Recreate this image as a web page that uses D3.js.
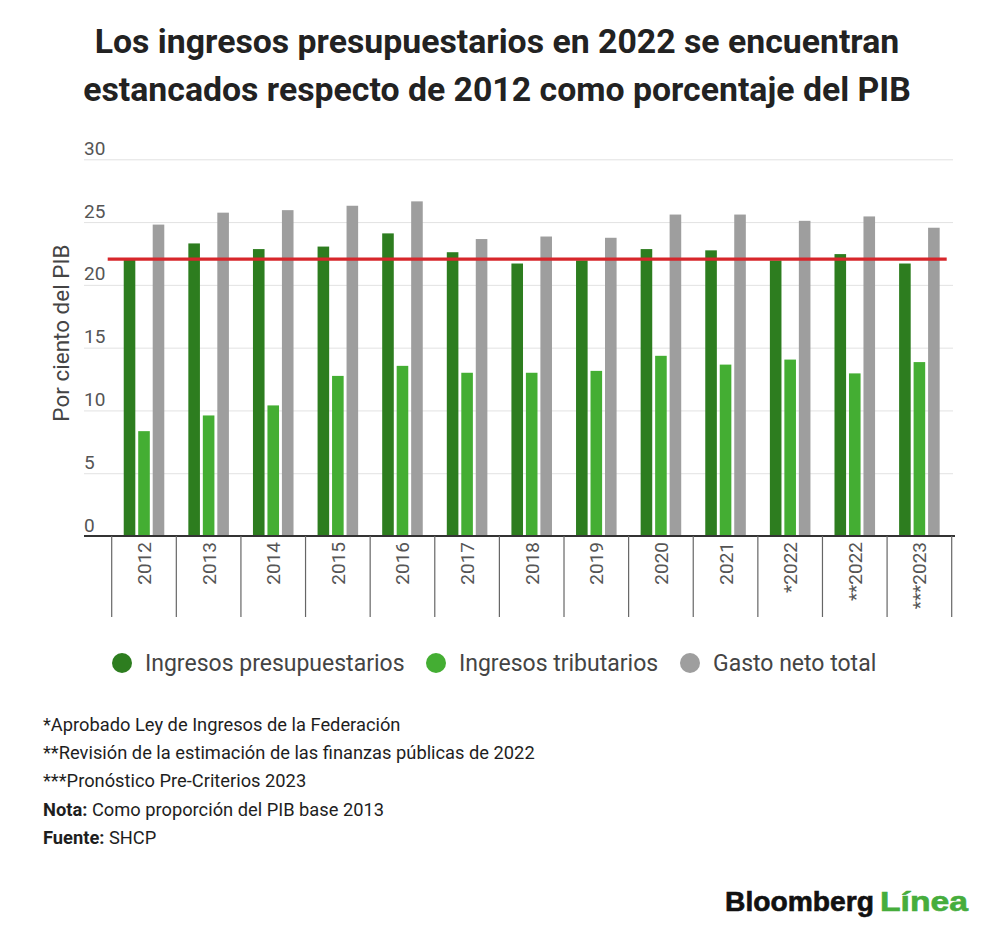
<!DOCTYPE html>
<html>
<head>
<meta charset="utf-8">
<script src="https://cdn.jsdelivr.net/npm/d3@7"></script>
<style>
  body { margin: 0; background: #fff; }
  svg { font-family: Roboto, "Noto Sans", sans-serif; }
</style>
</head>
<body>
<div id="chart"></div>
<script>
// data (per cent of GDP)
var years = ["2012", "2013", "2014", "2015", "2016", "2017", "2018", "2019", "2020", "2021", "*2022", "**2022", "***2023"];
var ingresosPresupuestarios = [22.05, 23.3, 22.85, 23.05, 24.1, 22.6, 21.7, 21.95, 22.85, 22.75, 21.95, 22.45, 21.7];
var ingresosTributarios = [8.35, 9.6, 10.4, 12.75, 13.55, 13.0, 13.0, 13.15, 14.35, 13.65, 14.05, 12.95, 13.85];
var gastoNetoTotal = [24.8, 25.75, 25.95, 26.3, 26.65, 23.65, 23.85, 23.75, 25.6, 25.6, 25.1, 25.45, 24.55];
var seriesNames = ["Ingresos presupuestarios", "Ingresos tributarios", "Gasto neto total"];
var referenceValue = 22.05; // 2012 level
var yTicks = [0, 5, 10, 15, 20, 25, 30];

var titleLines = [
  "Los ingresos presupuestarios en 2022 se encuentran",
  "estancados respecto de 2012 como porcentaje del PIB"
];
var notes = [
  { b: "", t: "*Aprobado Ley de Ingresos de la Federación" },
  { b: "", t: "**Revisión de la estimación de las finanzas públicas de 2022" },
  { b: "", t: "***Pronóstico Pre-Criterios 2023" },
  { b: "Nota:", t: " Como proporción del PIB base 2013" },
  { b: "Fuente:", t: " SHCP" }
];

var colors = ["#2d7d1f", "#44ae33", "#9e9e9e"];

var svgWidth = 1000;
var svgHeight = 941;

var svg = d3.select("#chart")
  .append("svg")
  .attr("width", svgWidth)
  .attr("height", svgHeight);

svg.append("rect")
  .attr("width", svgWidth)
  .attr("height", svgHeight)
  .attr("fill", "#fff");

// title
svg.append("g").selectAll("text")
  .data(titleLines)
  .enter()
  .append("text")
  .attr("x", 497)
  .attr("y", (d, i) => 53 + i * 48)
  .attr("text-anchor", "middle")
  .attr("font-size", 33.8)
  .attr("font-weight", 700)
  .attr("fill", "#222")
  .text(d => d);

// plot area
var plotLeft = 84, plotRight = 953;
var yScale = d3.scaleLinear().domain([0, 30]).range([536, 159.3]);

var x0 = d3.scaleBand()
  .domain(years)
  .range([111.7, 951.7])
  .padding(0);

var x1 = d3.scaleBand()
  .domain(seriesNames)
  .range([0, x0.bandwidth()])
  .paddingInner(0.2)
  .paddingOuter(0.83);

// gridlines + tick labels
var yAxis = svg.append("g")
  .attr("transform", `translate(${plotLeft}, 0)`)
  .call(d3.axisRight(yScale).tickValues(yTicks).tickSize(plotRight - plotLeft));
yAxis.select(".domain").remove();
yAxis.selectAll(".tick line")
  .attr("stroke", "#e2e2e2")
  .attr("stroke-width", 1);
yAxis.selectAll(".tick text")
  .attr("x", 0)
  .attr("y", 0)
  .attr("dy", -5)
  .attr("text-anchor", "start")
  .attr("font-size", 19)
  .attr("fill", "#555")
  .attr("font-family", "Roboto");

// y axis title
svg.append("text")
  .attr("transform", "translate(69, 333) rotate(-90)")
  .attr("text-anchor", "middle")
  .attr("font-size", 22.5)
  .attr("fill", "#444")
  .text("Por ciento del PIB");

// bars
var rows = years.map((y, i) => ({
  year: y,
  values: [ingresosPresupuestarios[i], ingresosTributarios[i], gastoNetoTotal[i]]
}));

var groups = svg.append("g").selectAll("g")
  .data(rows)
  .enter()
  .append("g")
  .attr("transform", d => `translate(${x0(d.year)}, 0)`);

groups.selectAll("rect")
  .data(d => d.values.map((v, j) => ({ key: seriesNames[j], value: v, idx: j })))
  .enter()
  .append("rect")
  .attr("x", d => x1(d.key))
  .attr("y", d => yScale(d.value))
  .attr("width", x1.bandwidth())
  .attr("height", d => yScale(0) - yScale(d.value))
  .attr("fill", d => colors[d.idx]);

// reference line at the 2012 level
svg.append("line")
  .attr("x1", x0.range()[0] - 4)
  .attr("x2", x0.range()[1] - 5)
  .attr("y1", yScale(referenceValue))
  .attr("y2", yScale(referenceValue))
  .attr("stroke", "#d7262b")
  .attr("stroke-width", 3.2);

// x axis
var xAxis = svg.append("g")
  .attr("transform", `translate(0, ${yScale(0)})`);

xAxis.append("line")
  .attr("x1", plotLeft)
  .attr("x2", 955)
  .attr("stroke", "#333")
  .attr("stroke-width", 2);

var sepPositions = years.map(d => x0(d)).concat([x0.range()[1]]);
xAxis.selectAll(".sep")
  .data(sepPositions)
  .enter()
  .append("line")
  .attr("class", "sep")
  .attr("x1", d => d)
  .attr("x2", d => d)
  .attr("y1", 0)
  .attr("y2", 81)
  .attr("stroke", "#666")
  .attr("stroke-width", 1.2);

xAxis.selectAll(".xlab")
  .data(years)
  .enter()
  .append("text")
  .attr("class", "xlab")
  .attr("transform", d => `translate(${x0(d) + x0.bandwidth() / 2 + 7}, 6) rotate(-90)`)
  .attr("text-anchor", "end")
  .attr("font-size", 19)
  .attr("fill", "#555")
  .text(d => d);

// legend
var legendX = [122, 436, 690];
var legend = svg.append("g").selectAll("g")
  .data(seriesNames)
  .enter()
  .append("g")
  .attr("transform", (d, i) => `translate(${legendX[i]}, 663)`);
legend.append("circle")
  .attr("r", 10)
  .attr("fill", (d, i) => colors[i]);
legend.append("text")
  .attr("x", 23)
  .attr("dy", "0.35em")
  .attr("font-size", 23)
  .attr("fill", "#444")
  .text(d => d);

// footnotes
var noteText = svg.append("g").selectAll("text")
  .data(notes)
  .enter()
  .append("text")
  .attr("x", 43)
  .attr("y", (d, i) => 731 + i * 28.2)
  .attr("font-size", 18.3)
  .attr("fill", "#1e1e1e");
noteText.append("tspan")
  .attr("font-weight", 700)
  .text(d => d.b);
noteText.append("tspan")
  .text(d => d.t);

// logo
svg.append("text")
  .attr("x", 725)
  .attr("y", 911)
  .attr("font-family", "'Liberation Sans', Arial, sans-serif")
  .attr("font-size", 27)
  .attr("font-weight", 700)
  .attr("fill", "#111")
  .attr("stroke", "#111")
  .attr("stroke-width", 0.6)
  .attr("textLength", 149)
  .attr("lengthAdjust", "spacingAndGlyphs")
  .text("Bloomberg");
svg.append("text")
  .attr("x", 880)
  .attr("y", 911)
  .attr("font-family", "'Liberation Sans', Arial, sans-serif")
  .attr("font-size", 27)
  .attr("font-weight", 700)
  .attr("fill", "#46ad3c")
  .attr("stroke", "#46ad3c")
  .attr("stroke-width", 0.6)
  .attr("textLength", 88)
  .attr("lengthAdjust", "spacingAndGlyphs")
  .text("Línea");
</script>
</body>
</html>
